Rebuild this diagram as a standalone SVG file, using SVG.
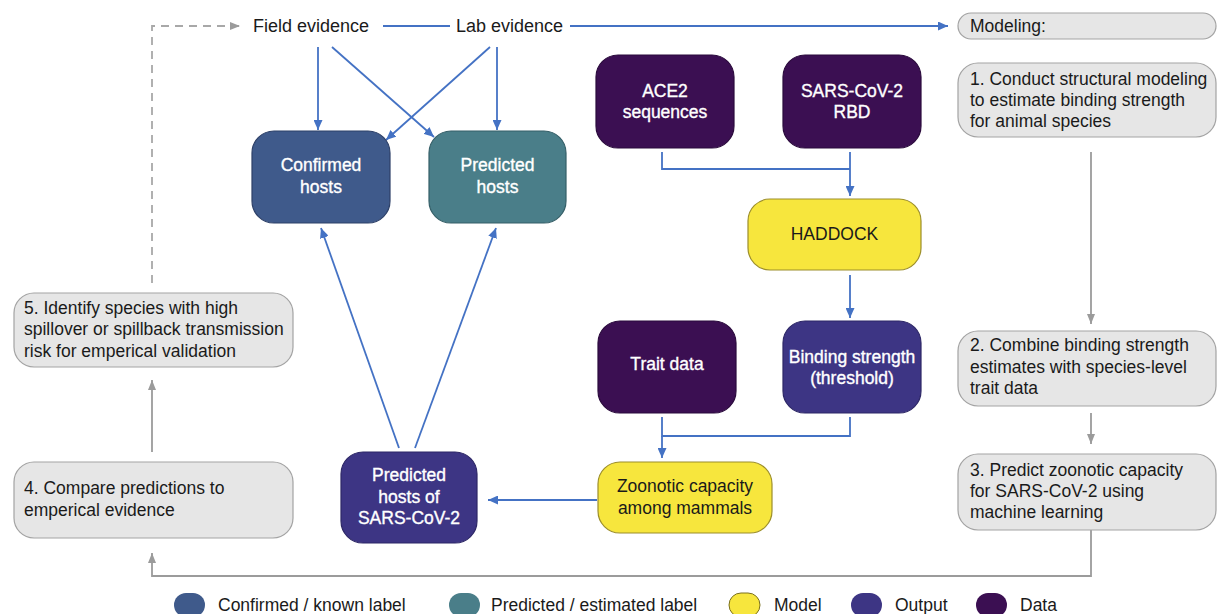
<svg xmlns="http://www.w3.org/2000/svg" width="1217" height="614" viewBox="0 0 1217 614">
<defs>
<style>
.t{font-family:"Liberation Sans",Arial,Helvetica,sans-serif;font-size:17.5px;fill:#1a1a1a}
.top{font-size:18px}
.nt{font-family:"Liberation Sans",Arial,Helvetica,sans-serif;font-size:17.5px;fill:#ffffff;text-anchor:middle;stroke:#ffffff;stroke-width:0.35px}
.yt{font-family:"Liberation Sans",Arial,Helvetica,sans-serif;font-size:17.5px;fill:#1a1a1a;text-anchor:middle}
.step{fill:#e6e6e6;stroke:#a3a3a3;stroke-width:1.2}
.conf{fill:#3f5a8b;stroke:#2d4068;stroke-width:1.2}
.pred{fill:#4a7e89;stroke:#355f68;stroke-width:1.2}
.model{fill:#f7e63d;stroke:#9c8e2a;stroke-width:1.2}
.out{fill:#3d3584;stroke:#2d2766;stroke-width:1.2}
.data{fill:#3b0f52;stroke:#2a0a3c;stroke-width:1.2}
.blue{fill:none;stroke:#4472c4;stroke-width:1.8}
.grey{fill:none;stroke:#9b9b9b;stroke-width:1.8}
.dash{fill:none;stroke:#a8a8a8;stroke-width:1.8;stroke-dasharray:8 6}
</style>
<marker id="ab" viewBox="0 0 10 10" refX="10" refY="5" markerWidth="10" markerHeight="9" markerUnits="userSpaceOnUse" orient="auto" preserveAspectRatio="none">
<path d="M0,0 L10,5 L0,10 z" fill="#4472c4"/>
</marker>
<marker id="ag" viewBox="0 0 10 10" refX="10" refY="5" markerWidth="10" markerHeight="8" markerUnits="userSpaceOnUse" orient="auto" preserveAspectRatio="none">
<path d="M0,0 L10,5 L0,10 z" fill="#9b9b9b"/>
</marker>
</defs>
<rect width="1217" height="614" fill="#ffffff"/>

<g id="connectors">
<path class="dash" d="M152,283 V26 H240" marker-end="url(#ag)"/>
<path class="blue" d="M383,26 H450"/>
<path class="blue" d="M570,26 H948" marker-end="url(#ab)"/>
<path class="blue" d="M318,47 V130" marker-end="url(#ab)"/>
<path class="blue" d="M332,47 L434,137" marker-end="url(#ab)"/>
<path class="blue" d="M490,47 L386,140" marker-end="url(#ab)"/>
<path class="blue" d="M497,47 V130" marker-end="url(#ab)"/>
<path class="blue" d="M662,152 V169 H850"/>
<path class="blue" d="M850,152 V196" marker-end="url(#ab)"/>
<path class="blue" d="M850,275 V318" marker-end="url(#ab)"/>
<path class="blue" d="M662,417 V436 H850 V417"/>
<path class="blue" d="M662,436 V458" marker-end="url(#ab)"/>
<path class="blue" d="M597,500 H488" marker-end="url(#ab)"/>
<path class="blue" d="M399,448 L321,228" marker-end="url(#ab)"/>
<path class="blue" d="M415,448 L496,228" marker-end="url(#ab)"/>
<path class="grey" d="M1091,152 V324" marker-end="url(#ag)"/>
<path class="grey" d="M1091,413 V444" marker-end="url(#ag)"/>
<path class="grey" d="M1091,530 V576 H152 V553" marker-end="url(#ag)"/>
<path class="grey" d="M152,452 V380" marker-end="url(#ag)"/>
</g>

<g id="field-evidence"><text class="t top" x="253" y="32">Field evidence</text></g>
<g id="lab-evidence"><text class="t top" x="456" y="32">Lab evidence</text></g>

<g id="modeling">
<rect class="step" x="958" y="13" width="258" height="26" rx="13"/>
<text class="t" x="970" y="32">Modeling:</text>
</g>
<g id="step1">
<rect class="step" x="958" y="63" width="258" height="74" rx="20"/>
<text class="t" x="970" y="85">1. Conduct structural modeling</text>
<text class="t" x="970" y="106">to estimate binding strength</text>
<text class="t" x="970" y="127">for animal species</text>
</g>
<g id="step2">
<rect class="step" x="958" y="331" width="258" height="75" rx="20"/>
<text class="t" x="970" y="351">2. Combine binding strength</text>
<text class="t" x="970" y="373">estimates with species-level</text>
<text class="t" x="970" y="394">trait data</text>
</g>
<g id="step3">
<rect class="step" x="958" y="454" width="258" height="76" rx="20"/>
<text class="t" x="970" y="476">3. Predict zoonotic capacity</text>
<text class="t" x="970" y="497">for SARS-CoV-2 using</text>
<text class="t" x="970" y="518">machine learning</text>
</g>
<g id="step4">
<rect class="step" x="14" y="462" width="279" height="76" rx="20"/>
<text class="t" x="24" y="494">4. Compare predictions to</text>
<text class="t" x="24" y="516">emperical evidence</text>
</g>
<g id="step5">
<rect class="step" x="14" y="293" width="279" height="74" rx="20"/>
<text class="t" x="24" y="314">5. Identify species with high</text>
<text class="t" x="24" y="335">spillover or spillback transmission</text>
<text class="t" x="24" y="357">risk for emperical validation</text>
</g>

<g id="confirmed-hosts">
<rect class="conf" x="252" y="131" width="138" height="92" rx="22"/>
<text class="nt" x="321" y="171">Confirmed</text>
<text class="nt" x="321" y="193">hosts</text>
</g>
<g id="predicted-hosts">
<rect class="pred" x="429" y="131" width="137" height="92" rx="22"/>
<text class="nt" x="497.5" y="171">Predicted</text>
<text class="nt" x="497.5" y="193">hosts</text>
</g>
<g id="ace2">
<rect class="data" x="596" y="55" width="138" height="93" rx="22"/>
<text class="nt" x="665" y="97">ACE2</text>
<text class="nt" x="665" y="118">sequences</text>
</g>
<g id="sars-rbd">
<rect class="data" x="783" y="55" width="138" height="93" rx="22"/>
<text class="nt" x="852" y="97">SARS-CoV-2</text>
<text class="nt" x="852" y="118">RBD</text>
</g>
<g id="haddock">
<rect class="model" x="748" y="199" width="173" height="71" rx="22"/>
<text class="yt" x="834.5" y="240">HADDOCK</text>
</g>
<g id="trait-data">
<rect class="data" x="598" y="321" width="138" height="92" rx="22"/>
<text class="nt" x="667" y="369.5">Trait data</text>
</g>
<g id="binding-strength">
<rect class="out" x="783" y="321" width="138" height="92" rx="22"/>
<text class="nt" x="852" y="363">Binding strength</text>
<text class="nt" x="852" y="384">(threshold)</text>
</g>
<g id="zoonotic-capacity">
<rect class="model" x="598" y="462" width="174" height="71" rx="22"/>
<text class="yt" x="685" y="492">Zoonotic capacity</text>
<text class="yt" x="685" y="514">among mammals</text>
</g>
<g id="predicted-hosts-sars">
<rect class="out" x="341" y="452" width="136" height="91" rx="22"/>
<text class="nt" x="409" y="481">Predicted</text>
<text class="nt" x="409" y="503">hosts of</text>
<text class="nt" x="409" y="524">SARS-CoV-2</text>
</g>

<g id="legend">
<rect x="174" y="593" width="31" height="24" rx="12" fill="#3f5a8b"/>
<text class="t" x="218" y="611">Confirmed / known label</text>
<rect x="449" y="593" width="31" height="24" rx="12" fill="#4a7e89"/>
<text class="t" x="491" y="611">Predicted / estimated label</text>
<rect x="729" y="593" width="31" height="24" rx="12" fill="#f7e63d" stroke="#7a7020" stroke-width="1"/>
<text class="t" x="774" y="611">Model</text>
<rect x="851" y="593" width="31" height="24" rx="12" fill="#3d3584"/>
<text class="t" x="895" y="611">Output</text>
<rect x="976" y="593" width="31" height="24" rx="12" fill="#3b0f52"/>
<text class="t" x="1020" y="611">Data</text>
</g>
</svg>
